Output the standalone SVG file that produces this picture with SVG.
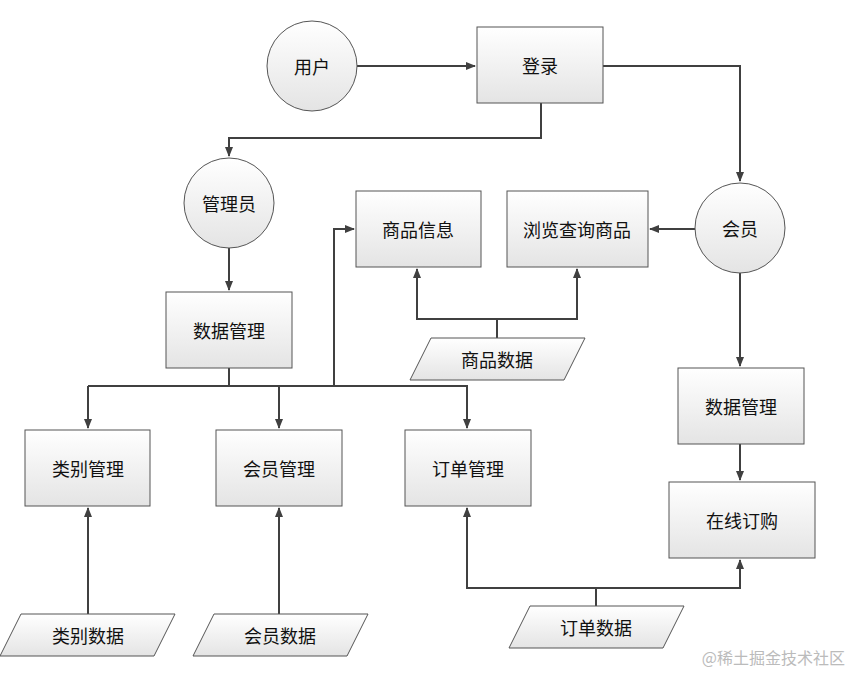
<svg xmlns="http://www.w3.org/2000/svg" width="863" height="686" viewBox="0 0 863 686">
<defs>
<linearGradient id="g" x1="0" y1="0" x2="0" y2="1"><stop offset="0" stop-color="#ffffff"/><stop offset="1" stop-color="#e4e4e4"/></linearGradient>
<marker id="a" markerWidth="10" markerHeight="10" refX="9" refY="5" orient="auto" markerUnits="userSpaceOnUse"><path d="M0,1 L10,5 L0,9 Z" fill="#404040"/></marker>
<style>
.n{fill:url(#g);stroke:#555;stroke-width:1}
.t{font-family:"Noto Sans CJK SC","Liberation Sans",sans-serif;font-size:18px;fill:#111;text-anchor:middle;dominant-baseline:central}
.c{fill:none;stroke:#404040;stroke-width:2}
</style>
</defs>
<rect width="863" height="686" fill="#fff"/>
<g id="connectors">
<path class="c" d="M357,66 H475" marker-end="url(#a)"/>
<path class="c" d="M603,66 H740 V181" marker-end="url(#a)"/>
<path class="c" d="M541,103 V138 H229 V156" marker-end="url(#a)"/>
<path class="c" d="M229,248 V290" marker-end="url(#a)"/>
<path class="c" d="M229,368 V386"/>
<path class="c" d="M88,386 H467 V428" marker-end="url(#a)"/>
<path class="c" d="M88,386 V428" marker-end="url(#a)"/>
<path class="c" d="M279,386 V428" marker-end="url(#a)"/>
<path class="c" d="M334,386 V229 H354" marker-end="url(#a)"/>
<path class="c" d="M695,229 H650" marker-end="url(#a)"/>
<path class="c" d="M497,338 V319 H417 V269" marker-end="url(#a)"/>
<path class="c" d="M497,319 H577 V269" marker-end="url(#a)"/>
<path class="c" d="M740,273 V366" marker-end="url(#a)"/>
<path class="c" d="M740,444 V480" marker-end="url(#a)"/>
<path class="c" d="M88,614 V508" marker-end="url(#a)"/>
<path class="c" d="M279,614 V508" marker-end="url(#a)"/>
<path class="c" d="M596,606 V588 H467 V508" marker-end="url(#a)"/>
<path class="c" d="M596,588 H740 V560" marker-end="url(#a)"/>
</g>
<g id="yonghu"><circle class="n" cx="312" cy="66" r="45"/><text class="t" x="312" y="66">用户</text></g>
<g id="denglu"><rect class="n" x="477" y="27" width="126" height="76"/><text class="t" x="540" y="65">登录</text></g>
<g id="guanliyuan"><circle class="n" cx="229" cy="203" r="45"/><text class="t" x="229" y="203">管理员</text></g>
<g id="huiyuan"><circle class="n" cx="740" cy="228" r="45"/><text class="t" x="740" y="228">会员</text></g>
<g id="spxx"><rect class="n" x="356" y="191" width="125" height="76"/><text class="t" x="418" y="229">商品信息</text></g>
<g id="llcx"><rect class="n" x="507" y="191" width="141" height="76"/><text class="t" x="577" y="229">浏览查询商品</text></g>
<g id="sjgl1"><rect class="n" x="166" y="292" width="126" height="76"/><text class="t" x="229" y="330">数据管理</text></g>
<g id="spsj"><polygon class="n" points="431,338 585,338 564,380 410,380"/><text class="t" x="497" y="359">商品数据</text></g>
<g id="sjgl2"><rect class="n" x="678" y="368" width="126" height="76"/><text class="t" x="741" y="406">数据管理</text></g>
<g id="lbgl"><rect class="n" x="25" y="430" width="125" height="76"/><text class="t" x="88" y="468">类别管理</text></g>
<g id="hygl"><rect class="n" x="216" y="430" width="126" height="76"/><text class="t" x="279" y="468">会员管理</text></g>
<g id="ddgl"><rect class="n" x="405" y="430" width="126" height="76"/><text class="t" x="468" y="468">订单管理</text></g>
<g id="zxdg"><rect class="n" x="669" y="482" width="146" height="76"/><text class="t" x="742" y="520">在线订购</text></g>
<g id="lbsj"><polygon class="n" points="21,614 175,614 154,656 0,656"/><text class="t" x="88" y="635">类别数据</text></g>
<g id="hysj"><polygon class="n" points="214,614 368,614 347,656 193,656"/><text class="t" x="280" y="635">会员数据</text></g>
<g id="ddsj"><polygon class="n" points="530,606 684,606 663,648 509,648"/><text class="t" x="596" y="627">订单数据</text></g>
<text x="845" y="657" font-family="Noto Sans CJK SC, sans-serif" font-size="16" fill="#bbb" text-anchor="end" dominant-baseline="central">@稀土掘金技术社区</text>
</svg>
